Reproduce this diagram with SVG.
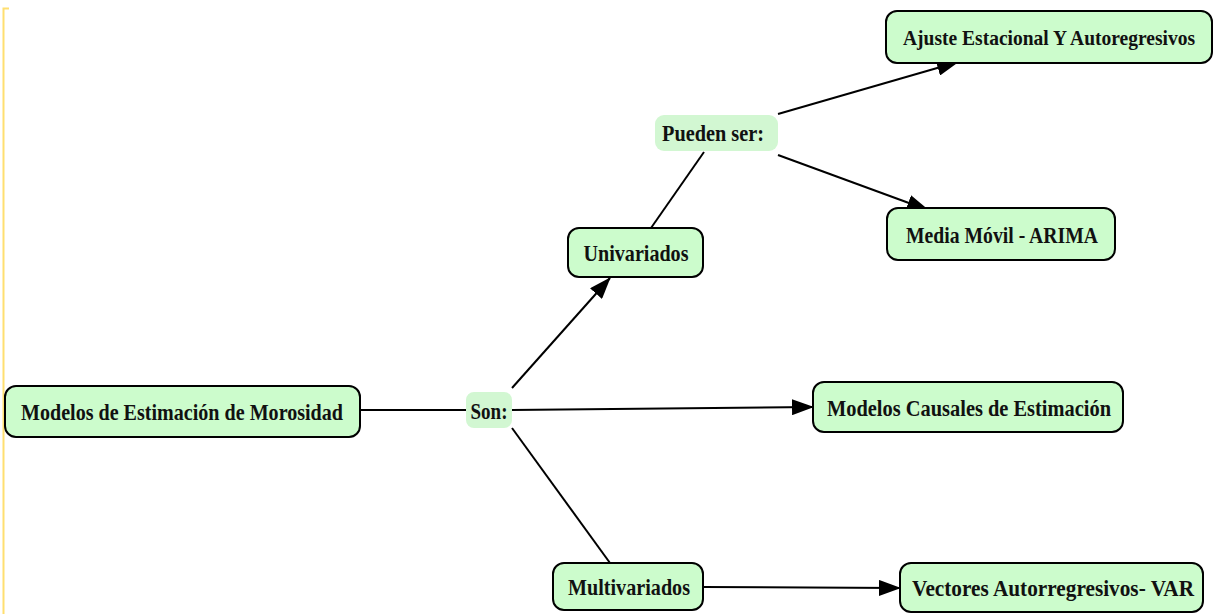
<svg xmlns="http://www.w3.org/2000/svg" width="1215" height="614" viewBox="0 0 1215 614">
<style>
.n{fill:#ccfccc;stroke:#000;stroke-width:2}
.l{fill:#d2f7d2;stroke:none}
.t{font-family:"Liberation Serif","Times New Roman",serif;font-weight:bold;font-size:23px;fill:#111;text-anchor:middle}
.c{stroke:#000;stroke-width:2;fill:none}
</style>
<defs>
<marker id="a" markerWidth="22" markerHeight="16" refX="21" refY="8" orient="auto" markerUnits="userSpaceOnUse">
<path d="M0,0 L22,8 L0,16 Z" fill="#000"/>
</marker>
</defs>
<rect width="1215" height="614" fill="#fff"/>
<path d="M3.5,614 V8.5 H9" stroke="#ffdf70" stroke-width="2" fill="none"/>
<g id="connectors">
<line class="c" x1="360" y1="410" x2="466" y2="410"/>
<line class="c" x1="512" y1="388" x2="610" y2="278" marker-end="url(#a)"/>
<line class="c" x1="512" y1="410" x2="813" y2="407" marker-end="url(#a)"/>
<line class="c" x1="512" y1="428" x2="610" y2="563"/>
<line class="c" x1="651" y1="228" x2="704" y2="152"/>
<line class="c" x1="778" y1="114" x2="958" y2="62" marker-end="url(#a)"/>
<line class="c" x1="778" y1="155" x2="928" y2="210" marker-end="url(#a)"/>
<line class="c" x1="703" y1="587" x2="900" y2="588" marker-end="url(#a)"/>
</g>
<g id="modelos"><rect class="n" x="5" y="386" width="355" height="51" rx="11"/><text class="t" x="182" y="420" textLength="322" lengthAdjust="spacingAndGlyphs">Modelos de Estimación de Morosidad</text></g>
<g id="son"><rect class="l" x="466" y="392" width="46" height="36" rx="8"/><text class="t" x="489" y="419" textLength="37" lengthAdjust="spacingAndGlyphs">Son:</text></g>
<g id="univariados"><rect class="n" x="568" y="228" width="135" height="49" rx="11"/><text class="t" x="636" y="261" textLength="105" lengthAdjust="spacingAndGlyphs">Univariados</text></g>
<g id="pueden"><rect class="l" x="655" y="115" width="123" height="36" rx="9"/><text class="t" x="713" y="141" textLength="102" lengthAdjust="spacingAndGlyphs">Pueden ser:</text></g>
<g id="ajuste"><rect class="n" x="886" y="11" width="326" height="52" rx="11"/><text class="t" x="1049" y="45" style="font-size:21px" textLength="292" lengthAdjust="spacingAndGlyphs">Ajuste Estacional Y Autoregresivos</text></g>
<g id="media"><rect class="n" x="887" y="208" width="228" height="52" rx="11"/><text class="t" x="1002" y="243" textLength="192" lengthAdjust="spacingAndGlyphs">Media Móvil - ARIMA</text></g>
<g id="causales"><rect class="n" x="813" y="382" width="310" height="50" rx="11"/><text class="t" x="969" y="416" textLength="284" lengthAdjust="spacingAndGlyphs">Modelos Causales de Estimación</text></g>
<g id="multivariados"><rect class="n" x="553" y="563" width="150" height="47" rx="11"/><text class="t" x="629" y="595" textLength="122" lengthAdjust="spacingAndGlyphs">Multivariados</text></g>
<g id="vectores"><rect class="n" x="900" y="563" width="303" height="49" rx="11"/><text class="t" x="1053" y="596" textLength="282" lengthAdjust="spacingAndGlyphs">Vectores Autorregresivos- VAR</text></g>
</svg>
